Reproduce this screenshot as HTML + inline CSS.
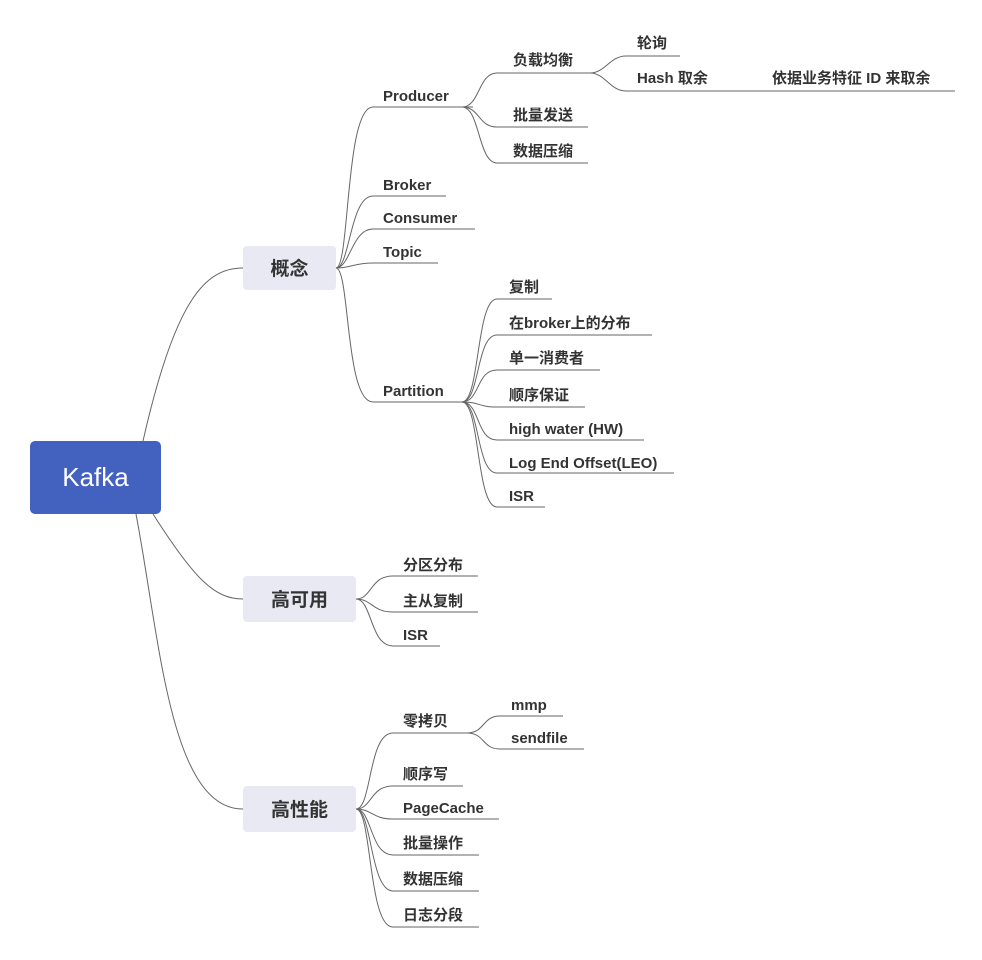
<!DOCTYPE html>
<html><head><meta charset="utf-8"><style>
html,body{margin:0;padding:0;background:#fff;}
svg text{font-family:"Liberation Sans","Noto Sans CJK SC",sans-serif;font-size:15px;fill:#333;font-weight:bold;}
</style></head><body>
<svg width="982" height="955" viewBox="0 0 982 955" xmlns="http://www.w3.org/2000/svg">
<g fill="none" stroke="#666" stroke-width="1">
<!-- root connectors -->
<path d="M143 441 C175 300 205 268 243 268"/>
<path d="M153 514 C195 580 215 599 243 599"/>
<path d="M136 514 C160 640 170 809 243 809"/>
<!-- 概念 children -->
<path d="M336 268 C350 268 345 107 373 107 L473 107"/>
<path d="M336 268 C350 268 350 196 373 196 L446 196"/>
<path d="M336 268 C350 268 352 229 373 229 L475 229"/>
<path d="M336 268 C350 268 355 263 373 263 L438 263"/>
<path d="M336 268 C350 268 345 402 373 402 L465 402"/>
<!-- Producer children -->
<path d="M462 107 C480 107 478 73 497 73 L590 73"/>
<path d="M462 107 C480 107 478 127 497 127 L588 127"/>
<path d="M462 107 C480 107 478 163 497 163 L588 163"/>
<!-- 负载均衡 children -->
<path d="M590 73 C605 73 610 56 626 56 L680 56"/>
<path d="M590 73 C605 73 610 91 626 91 L955 91"/>
<!-- Partition children -->
<path d="M462 402 C480 402 476 299 497 299 L552 299"/>
<path d="M462 402 C480 402 476 335 497 335 L652 335"/>
<path d="M462 402 C480 402 476 370 497 370 L600 370"/>
<path d="M462 402 C480 402 478 407 497 407 L585 407"/>
<path d="M462 402 C480 402 476 440 497 440 L644 440"/>
<path d="M462 402 C480 402 476 473 497 473 L674 473"/>
<path d="M462 402 C480 402 476 507 497 507 L545 507"/>
<!-- 高可用 -->
<path d="M356 599 C372 599 370 576 393 576 L478 576"/>
<path d="M356 599 C372 599 372 612 393 612 L478 612"/>
<path d="M356 599 C372 599 370 646 393 646 L440 646"/>
<!-- 高性能 -->
<path d="M356 809 C372 809 368 733 393 733 L467 733"/>
<path d="M356 809 C372 809 370 786 393 786 L463 786"/>
<path d="M356 809 C372 809 372 819 393 819 L499 819"/>
<path d="M356 809 C372 809 370 855 393 855 L479 855"/>
<path d="M356 809 C372 809 370 891 393 891 L479 891"/>
<path d="M356 809 C372 809 368 927 393 927 L479 927"/>
<path d="M467 733 C485 733 482 716 500 716 L563 716"/>
<path d="M467 733 C485 733 482 749 500 749 L584 749"/>
</g>
<rect x="30" y="441" width="131" height="73" rx="5" fill="#4361bf"/>
<text x="95.5" y="486" text-anchor="middle" style="font-size:26px;fill:#fff;font-weight:normal">Kafka</text>
<rect x="243" y="246" width="93" height="44" rx="4" fill="#e8e9f2"/>
<text x="289.5" y="275" text-anchor="middle" style="font-size:19px">概念</text>
<rect x="243" y="576" width="113" height="46" rx="4" fill="#e8e9f2"/>
<text x="299.5" y="606" text-anchor="middle" style="font-size:19px">高可用</text>
<rect x="243" y="786" width="113" height="46" rx="4" fill="#e8e9f2"/>
<text x="299.5" y="816" text-anchor="middle" style="font-size:19px">高性能</text>

<text x="383" y="101">Producer</text>
<text x="383" y="190">Broker</text>
<text x="383" y="223">Consumer</text>
<text x="383" y="257">Topic</text>
<text x="383" y="396">Partition</text>
<text x="513" y="65">负载均衡</text>
<text x="513" y="120">批量发送</text>
<text x="513" y="156">数据压缩</text>
<text x="637" y="48">轮询</text>
<text x="637" y="83">Hash 取余</text>
<text x="772" y="83">依据业务特征 ID 来取余</text>
<text x="509" y="292">复制</text>
<text x="509" y="328">在broker上的分布</text>
<text x="509" y="363">单一消费者</text>
<text x="509" y="400">顺序保证</text>
<text x="509" y="434">high water (HW)</text>
<text x="509" y="468">Log End Offset(LEO)</text>
<text x="509" y="501">ISR</text>
<text x="403" y="570">分区分布</text>
<text x="403" y="606">主从复制</text>
<text x="403" y="640">ISR</text>
<text x="403" y="726">零拷贝</text>
<text x="511" y="710">mmp</text>
<text x="511" y="743">sendfile</text>
<text x="403" y="779">顺序写</text>
<text x="403" y="813">PageCache</text>
<text x="403" y="848">批量操作</text>
<text x="403" y="884">数据压缩</text>
<text x="403" y="920">日志分段</text>
</svg>
</body></html>
